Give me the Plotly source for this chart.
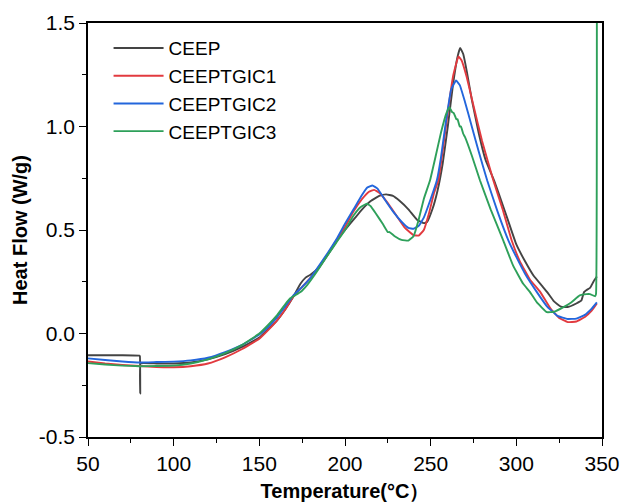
import plotly.graph_objects as go

# ---- data ----
ceep_x = [50, 60, 70, 80, 80.3, 80.5, 80.7, 90, 100, 110, 120, 130, 140, 150, 155, 160, 165, 170, 174, 177, 180, 185, 190, 195, 200, 205, 210, 215, 220, 224, 228, 232, 237, 242, 246, 248, 251, 254, 257, 260, 263, 265.5, 267.2, 269, 271, 274, 278, 282, 287, 290, 295, 300, 305, 310, 315, 318, 322, 326, 330, 335, 338, 339.5, 341, 343, 345, 347]
ceep_y = [-0.105, -0.105, -0.105, -0.107, -0.11, -0.29, -0.145, -0.145, -0.145, -0.14, -0.125, -0.1, -0.065, -0.02, 0.02, 0.06, 0.115, 0.18, 0.24, 0.27, 0.285, 0.32, 0.38, 0.445, 0.5, 0.55, 0.6, 0.64, 0.665, 0.672, 0.665, 0.64, 0.6, 0.55, 0.533, 0.54, 0.6, 0.69, 0.82, 1.0, 1.2, 1.33, 1.38, 1.35, 1.27, 1.13, 0.97, 0.84, 0.74, 0.67, 0.55, 0.43, 0.35, 0.28, 0.23, 0.2, 0.155, 0.13, 0.128, 0.145, 0.16, 0.2, 0.21, 0.22, 0.25, 0.275]

t1_x = [50, 60, 70, 80, 90, 100, 110, 120, 130, 140, 150, 155, 160, 165, 170, 175, 180, 185, 190, 195, 200, 205, 210, 214, 217, 220, 225, 230, 235, 240, 243, 246, 249, 252, 254.5, 257, 260, 263, 266.2, 268, 271, 275, 280, 286.6, 292, 297.3, 302, 308, 314, 320, 325, 330, 335, 340, 344, 347]
t1_y = [-0.135, -0.145, -0.152, -0.157, -0.162, -0.163, -0.158, -0.145, -0.115, -0.075, -0.025, 0.015, 0.06, 0.115, 0.18, 0.225, 0.27, 0.325, 0.385, 0.45, 0.515, 0.59, 0.65, 0.685, 0.694, 0.68, 0.63, 0.57, 0.51, 0.475, 0.473, 0.5, 0.58, 0.68, 0.739, 0.88, 1.07, 1.24, 1.338, 1.32, 1.24, 1.1, 0.93, 0.739, 0.6, 0.449, 0.35, 0.26, 0.2, 0.12, 0.075, 0.055, 0.058, 0.08, 0.11, 0.145]

t2_x = [50, 60, 70, 80, 90, 100, 110, 120, 130, 140, 150, 155, 160, 165, 170, 175, 180, 185, 190, 195, 200, 205, 210, 213, 216, 219, 223, 228, 233, 237, 240, 243, 246, 250, 253.6, 256, 259, 262, 264.8, 267, 270, 274, 278, 283, 289, 295.4, 300, 305, 312, 318, 324, 330, 335, 340, 344, 347]
t2_y = [-0.12, -0.128, -0.135, -0.14, -0.138, -0.136, -0.13, -0.117, -0.09, -0.055, -0.005, 0.03, 0.075, 0.13, 0.185, 0.225, 0.27, 0.33, 0.39, 0.455, 0.53, 0.6, 0.67, 0.705, 0.715, 0.7, 0.65, 0.59, 0.54, 0.51, 0.506, 0.52, 0.56, 0.65, 0.739, 0.85, 1.03, 1.18, 1.222, 1.2, 1.12, 1.0, 0.88, 0.739, 0.59, 0.449, 0.37, 0.29, 0.2, 0.13, 0.085, 0.07, 0.072, 0.09, 0.12, 0.15]

t3_x = [50, 60, 70, 80, 90, 100, 110, 120, 130, 140, 150, 155, 160, 165, 168, 171, 174, 178, 182, 186, 190, 195, 200, 205, 209, 212.7, 215, 218, 222, 225, 226, 229, 233, 237, 240, 243, 246, 249.6, 253, 256, 259, 260.9, 262.5, 263.5, 265, 265.7, 267, 267.7, 269, 270, 274, 278.8, 285, 292.4, 298, 304, 308, 312, 317.8, 322, 327, 332, 337, 341, 343, 346, 346.5, 347]
t3_y = [-0.143, -0.15, -0.155, -0.158, -0.157, -0.155, -0.145, -0.125, -0.095, -0.055, 0.0, 0.04, 0.085, 0.14, 0.17, 0.185, 0.2, 0.235, 0.28, 0.33, 0.38, 0.44, 0.5, 0.57, 0.61, 0.627, 0.615, 0.58, 0.53, 0.49, 0.49, 0.47, 0.452, 0.449, 0.47, 0.55, 0.65, 0.739, 0.86, 0.97, 1.06, 1.093, 1.07, 1.065, 1.035, 1.035, 1.0, 1.0, 0.965, 0.95, 0.86, 0.739, 0.6, 0.449, 0.33, 0.24, 0.2, 0.15, 0.103, 0.105, 0.125, 0.15, 0.184, 0.19, 0.19, 0.18, 0.19, 1.6]

names = ["CEEP", "CEEPTGIC1", "CEEPTGIC2", "CEEPTGIC3"]
colors = ["#444444", "#e23a3f", "#2366dc", "#2ea05a"]

x_ticks = [50, 100, 150, 200, 250, 300, 350]
y_ticks = [-0.5, 0.0, 0.5, 1.0, 1.5]
y_tick_text = ["-0.5", "0.0", "0.5", "1.0", "1.5"]

fig = go.Figure()
for xs, ys, n, c in zip([ceep_x, t1_x, t2_x, t3_x], [ceep_y, t1_y, t2_y, t3_y], names, colors):
    fig.add_trace(go.Scatter(x=xs, y=ys, mode="lines", name=n,
                             line=dict(color=c, width=1.9, shape="spline", smoothing=0.3)))

axis_common = dict(
    showline=True, linecolor="black", linewidth=1.6, mirror=True,
    ticks="outside", ticklen=7, tickwidth=1.4, tickcolor="black",
    showgrid=False, zeroline=False, automargin=False,
    tickfont=dict(family="Liberation Sans, Arial", size=21, color="black"),
)

fig.update_xaxes(range=[50, 350], tickvals=x_ticks,
                 minor=dict(ticks="outside", ticklen=4, tickwidth=1.2, tickcolor="black", dtick=25),
                 title=dict(text="<b>Temperature(°C）</b>", font=dict(family="Liberation Sans, Arial", size=20, color="black"), standoff=10),
                 **axis_common)
fig.update_yaxes(range=[-0.5, 1.5], tickvals=y_ticks, ticktext=y_tick_text,
                 minor=dict(ticks="outside", ticklen=4, tickwidth=1.2, tickcolor="black", dtick=0.25),
                 title=dict(text="<b>Heat Flow (W/g)</b>", font=dict(family="Liberation Sans, Arial", size=20, color="black"), standoff=6),
                 **axis_common)

fig.update_layout(
    width=623, height=503,
    margin=dict(l=88, r=21, t=23, b=66),
    plot_bgcolor="white", paper_bgcolor="white",
    legend=dict(x=0.04, y=0.985, xanchor="left", yanchor="top",
                font=dict(family="Liberation Sans, Arial", size=19, color="black"),
                bgcolor="rgba(0,0,0,0)", tracegroupgap=0, itemwidth=50),
)

fig.write_html("out.html")
